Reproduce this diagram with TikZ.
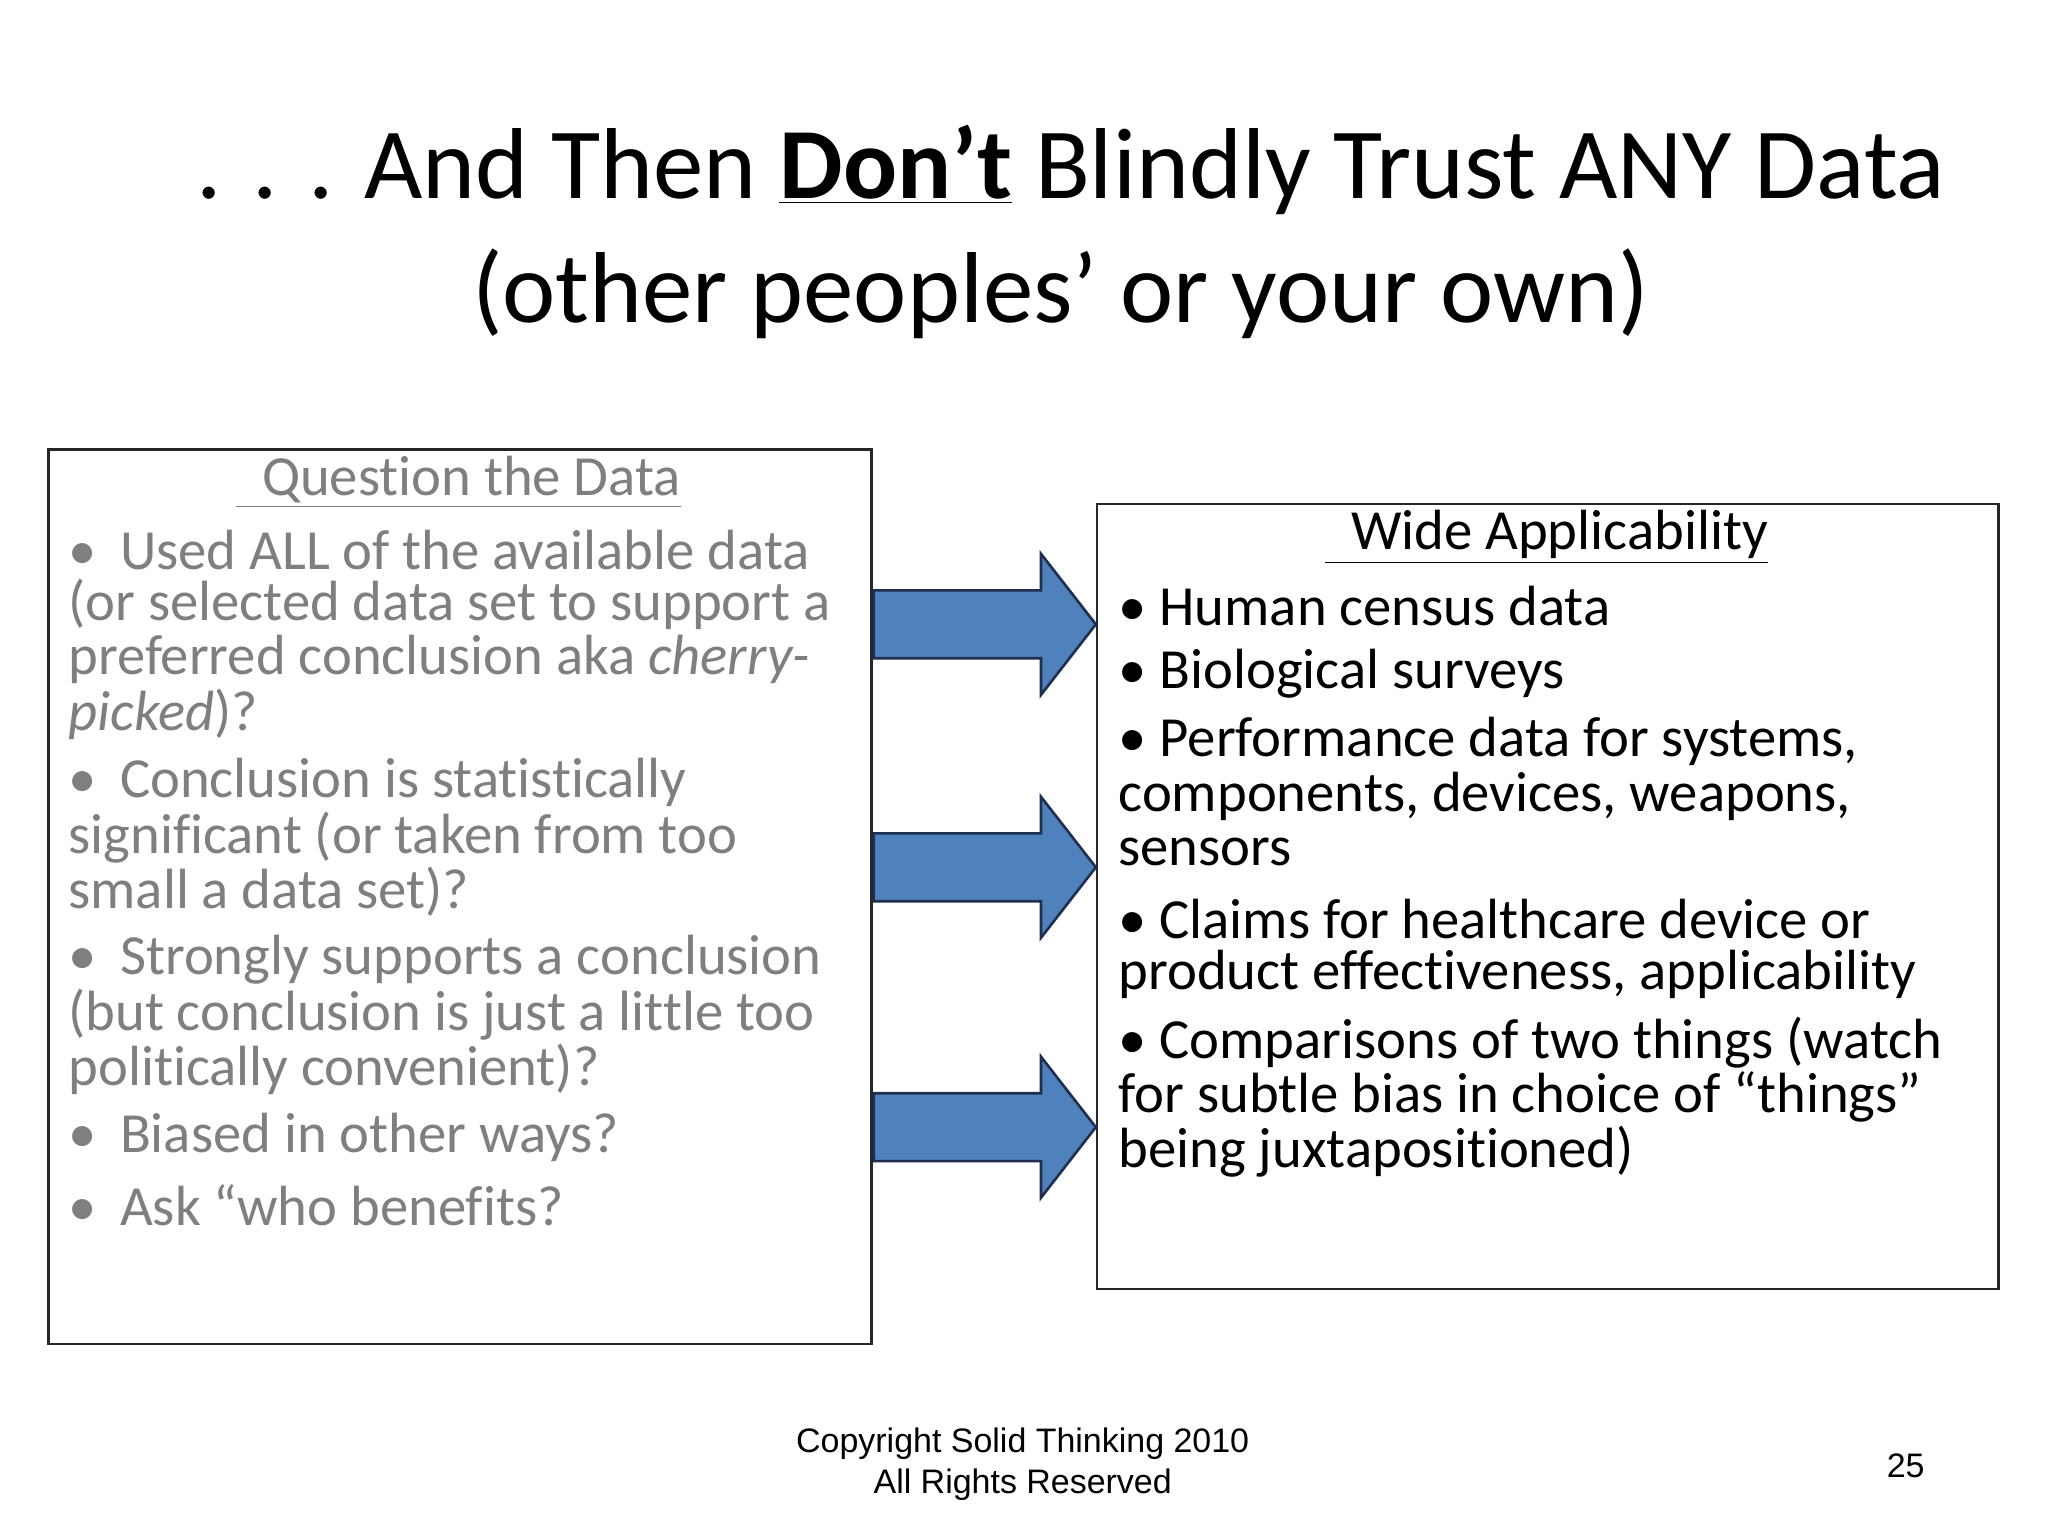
\documentclass[tikz,border=0pt]{standalone}
\usepackage{fontspec}
\setmainfont[Ligatures=NoCommon]{Carlito}
\newfontfamily\arialf{Liberation Sans}
\definecolor{arrowblue}{HTML}{4F81BD}
\definecolor{arrowedge}{HTML}{1F2F4F}
\definecolor{graytext}{HTML}{7F7F7F}
\newcommand{\ulx}[1]{\underline{#1}}
\begin{document}
\begin{tikzpicture}[x=0.5pt,y=-0.5pt,
  title/.style={font=\fontsize{38.6pt}{46pt}\selectfont,inner sep=0pt},
  ltxt/.style={anchor=west,inner sep=0pt,text=graytext,font=\fontsize{21.7pt}{25pt}\selectfont},
  rtxt/.style={anchor=west,inner sep=0pt,text=black,font=\fontsize{21.7pt}{25pt}\selectfont},
  boxframe/.style={draw=black!85,line width=1pt},
  blockarrow/.style={fill=arrowblue,draw=arrowedge,line width=1pt},
  foot/.style={font=\arialf\fontsize{13pt}{15.5pt}\selectfont,inner sep=0pt,align=center}]
\useasboundingbox (0,0) rectangle (1568,1176);
\fill[white] (0,0) rectangle (1568,1176);
\node[title] (t1) at (820,130) {. . . And Then \underline{\textbf{Don’t}} Blindly Trust ANY Data};
\node[title] (t2) at (812,225) {(other peoples’ or your own)};

\node[boxframe,minimum width=315pt,minimum height=342.5pt,anchor=north west] (lbox) at (36,343) {};
\node[boxframe,minimum width=345pt,minimum height=300.5pt,anchor=north west] (rbox) at (839,385) {};

\node[ltxt,anchor=center] (lt) at (351,369) {\underline{\hspace{10pt}Question the Data}};
\node[ltxt] (l1) at (52,421) {•\hspace{9pt}Used ALL of the available data};
\node[ltxt] (l2) at (52,463) {(or selected data set to support a};
\node[ltxt] (l3) at (52,505) {preferred conclusion aka \textit{cherry-}};
\node[ltxt] (l4) at (52,547) {\textit{picked})?};
\node[ltxt] (l5) at (52,599) {•\hspace{9pt}Conclusion is statistically};
\node[ltxt] (l6) at (52,641) {significant (or taken from too};
\node[ltxt] (l7) at (52,683) {small a data set)?};
\node[ltxt] (l8) at (52,735) {•\hspace{9pt}Strongly supports a conclusion};
\node[ltxt] (l9) at (52,777) {(but conclusion is just a little too};
\node[ltxt] (l10) at (52,819) {politically convenient)?};
\node[ltxt] (l11) at (52,871) {•\hspace{9pt}Biased in other ways?};
\node[ltxt] (l12) at (52,923) {•\hspace{9pt}Ask “who benefits?};

\node[rtxt,anchor=center] (rt) at (1184,411) {\underline{\hspace{10pt}Wide Applicability}};
\node[rtxt] (r1) at (856,464) {• Human census data};
\node[rtxt] (r2) at (856,516) {• Biological surveys};
\node[rtxt] (r3) at (856,568) {• Performance data for systems,};
\node[rtxt] (r4) at (856,610) {components, devices, weapons,};
\node[rtxt] (r5) at (856,652) {sensors};
\node[rtxt] (r6) at (856,704) {• Claims for healthcare device or};
\node[rtxt] (r7) at (856,746) {product effectiveness, applicability};
\node[rtxt] (r8) at (856,798) {• Comparisons of two things (watch};
\node[rtxt] (r9) at (856,840) {for subtle bias in choice of “things”};
\node[rtxt] (r10) at (856,882) {being juxtapositioned)};

\foreach \c in {478,664,863}{
  \draw[blockarrow] (669,\c-26) -- (797,\c-26) -- (797,\c-54) -- (839,\c) -- (797,\c+54) -- (797,\c+26) -- (669,\c+26) -- cycle;
}

\node[foot] (f1) at (783,1121) {Copyright Solid Thinking 2010\\All Rights Reserved};
\node[foot] (pg) at (1459,1122) {25};
\end{tikzpicture}
\end{document}
